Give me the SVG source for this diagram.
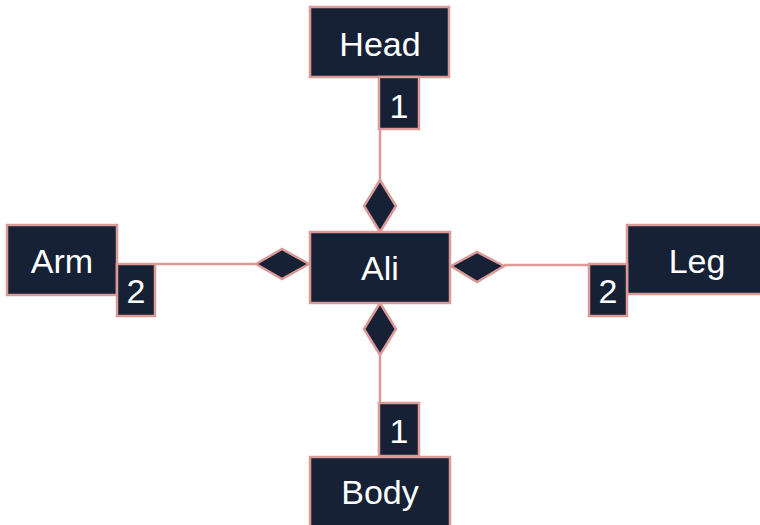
<svg xmlns="http://www.w3.org/2000/svg" width="760" height="525" viewBox="0 0 760 525">
<style>
.box{fill:#162135;stroke:#db9a98;stroke-width:2.5}
.t{fill:#ffffff;font-family:"Liberation Sans",Arial,sans-serif;font-size:34px;text-anchor:middle}
.ln{stroke:#db9a98;stroke-width:2.5;fill:none}
.dia{fill:#162135;stroke:#db9a98;stroke-width:2.5;stroke-linejoin:miter}
</style>
<rect width="760" height="525" fill="#ffffff"/>
<g id="connectors">
<line class="ln" x1="380" y1="129" x2="380" y2="180"/>
<polygon class="dia" points="380,180 396,206 380,232 364,206"/>
<line class="ln" x1="380" y1="355" x2="380" y2="403"/>
<polygon class="dia" points="380,303 396,329 380,355 364,329"/>
<line class="ln" x1="155" y1="264" x2="256" y2="264"/>
<polygon class="dia" points="256,264 282,249 309,264 282,279"/>
<line class="ln" x1="504" y1="265" x2="589" y2="265"/>
<polygon class="dia" points="451,266 477,252 504,266 477,282"/>
</g>
<g id="head">
<rect class="box" x="310" y="7" width="139" height="70"/>
<text class="t" x="380" y="56">Head</text>
</g>
<g id="head-mult">
<rect class="box" x="379" y="77" width="40" height="52"/>
<text class="t" x="399" y="118">1</text>
</g>
<g id="ali">
<rect class="box" x="310" y="232" width="140" height="71"/>
<text class="t" x="380" y="280">Ali</text>
</g>
<g id="arm">
<rect class="box" x="7" y="225" width="110" height="70"/>
<text class="t" x="62" y="273">Arm</text>
</g>
<g id="arm-mult">
<rect class="box" x="117" y="264" width="38" height="52"/>
<text class="t" x="136" y="303">2</text>
</g>
<g id="leg">
<rect class="box" x="627" y="225" width="140" height="69"/>
<text class="t" x="697" y="273">Leg</text>
</g>
<g id="leg-mult">
<rect class="box" x="589" y="264" width="38" height="52"/>
<text class="t" x="608" y="303">2</text>
</g>
<g id="body">
<rect class="box" x="310" y="457" width="140" height="72"/>
<text class="t" x="380" y="504">Body</text>
</g>
<g id="body-mult">
<rect class="box" x="379" y="403" width="40" height="53"/>
<text class="t" x="399" y="443">1</text>
</g>
</svg>
